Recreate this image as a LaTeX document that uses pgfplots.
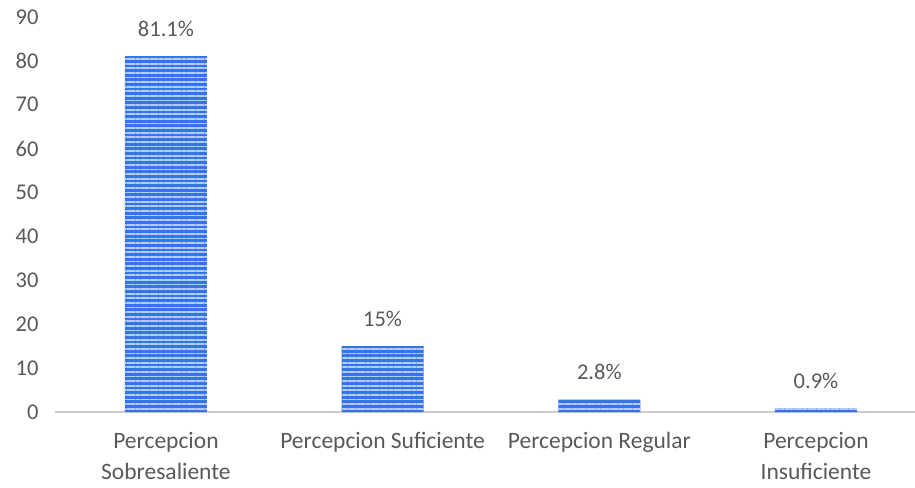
\documentclass[border=0pt]{standalone}
\usepackage{pgfplots}
\pgfplotsset{compat=1.18}
\usepackage{fontspec}
\setmainfont{Carlito}
\usetikzlibrary{patterns.meta}
\definecolor{txt}{HTML}{595959}
\definecolor{axl}{HTML}{CCCCCC}
\definecolor{barA}{HTML}{3473E8}
\definecolor{barB}{HTML}{B4CDF8}
\begin{document}
\begin{tikzpicture}
\begin{axis}[
  scale only axis, width=860pt, height=395pt,
  xmin=-0.512, xmax=3.457, ymin=0, ymax=90,
  ytick={0,10,...,90},
  xtick={0,1,2,3},
  xticklabels={{Percepcion\\Sobresaliente},{Percepcion Suficiente},{Percepcion Regular},{Percepcion\\Insuficiente}},
  xticklabel style={align=center, text=txt, font=\fontsize{23.5}{31}\selectfont, yshift=-17pt},
  yticklabel style={text=txt, font=\fontsize{22.5}{26}\selectfont, xshift=-13pt},
  /pgf/number format/assume math mode=true,
  separate axis lines,
  axis x line*=bottom, axis y line*=left,
  x axis line style={axl, line width=2.2pt, -},
  y axis line style={draw=none},
  major tick length=0pt,
  tick style={draw=none},
  clip=false,
  ybar, bar width=82pt,
  nodes near coords,
  point meta=explicit symbolic,
  every node near coord/.append style={text=txt, font=\fontsize{22.5}{26}\selectfont, yshift=16pt},
]
\addplot[draw=none, fill=barA,
  postaction={pattern={Lines[angle=0, distance=4.6pt, line width=1.8pt]}, pattern color=barB}]
  coordinates {(0,81.1) [81.1\%] (1,15) [15\%] (2,2.8) [2.8\%] (3,0.9) [0.9\%]};
\end{axis}
\pgfresetboundingbox
\path ([xshift=-55pt,yshift=-75pt]current axis.south west) rectangle ([xshift=0pt,yshift=17pt]current axis.north east);
\end{tikzpicture}
\end{document}
